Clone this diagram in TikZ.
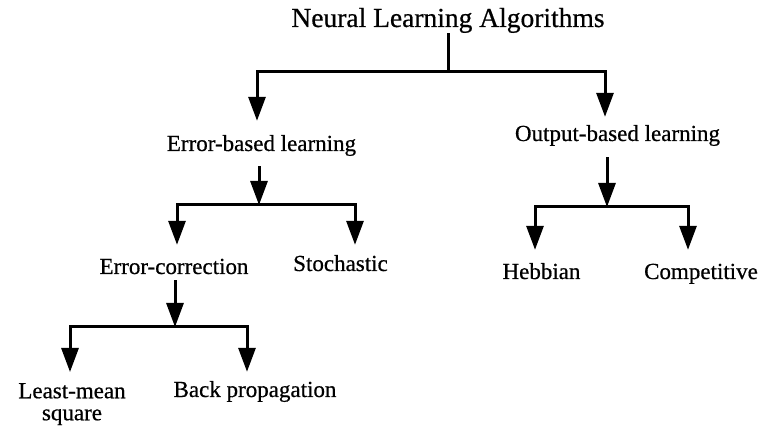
\documentclass[tikz,border=0pt]{standalone}
\usepackage{fontspec}
\setmainfont[FakeBold=0.6]{Liberation Serif}
\usetikzlibrary{arrows.meta}
\begin{document}
\begin{tikzpicture}[x=1pt,y=-1pt,
  lbl/.style={inner sep=0pt, anchor=base, font=\fontsize{23}{22}\selectfont, text height=16pt, text depth=5pt},
  ttl/.style={inner sep=0pt, anchor=base, font=\fontsize{27.5}{30}\selectfont, text height=19pt, text depth=6pt},
  conn/.style={line width=3pt, line join=miter},
  arr/.style={conn, -{Triangle[length=24pt,width=17pt]}}]
\useasboundingbox (0,0) rectangle (761,427);
% nodes
\node[ttl] (title) at (448,27) {Neural Learning Algorithms};
\node[lbl] (ebl) at (261.5,151) {Error-based learning};
\node[lbl] (obl) at (617.5,141) {Output-based learning};
\node[lbl] (ec) at (174,274) {Error-correction};
\node[lbl] (st) at (340.5,271) {Stochastic};
\node[inner sep=0pt, anchor=north, align=center, font=\fontsize{23}{22}\selectfont] (lms) at (72,383) {Least-mean\\square};
\node[lbl] (bp) at (255,397) {Back propagation};
\node[lbl] (heb) at (541.5,279) {Hebbian};
\node[lbl] (comp) at (701,279) {Competitive};
% junctions
\coordinate (j1) at (448,72);
\coordinate (j2) at (259,205);
\coordinate (j3) at (175,327);
\coordinate (j4) at (607,207);
% connectors
\draw[conn] (title.south) -- (j1);
\draw[arr] (j1) -| ([xshift=-4.5pt,yshift=14pt]ebl.north);
\draw[arr] (j1) -| ([xshift=-12.5pt,yshift=8pt]obl.north);
\draw[arr] ([xshift=-2.5pt,yshift=-10pt]ebl.south) -- (j2);
\draw[arr] (j2) -| ([xshift=3pt,yshift=13pt]ec.north);
\draw[arr] (j2) -| ([xshift=14.5pt,yshift=10pt]st.north);
\draw[arr] ([xshift=1pt,yshift=-1pt]ec.south) -- (j3);
\draw[arr] (j3) -| ([xshift=-2pt,yshift=11pt]lms.north);
\draw[arr] (j3) -| ([xshift=-8pt,yshift=9pt]bp.north);
\draw[arr] ([xshift=-10.5pt,yshift=-11pt]obl.south) -- (j4);
\draw[arr] (j4) -| ([xshift=-6.5pt,yshift=13pt]heb.north);
\draw[arr] (j4) -| ([xshift=-13pt,yshift=13pt]comp.north);
\end{tikzpicture}
\end{document}
